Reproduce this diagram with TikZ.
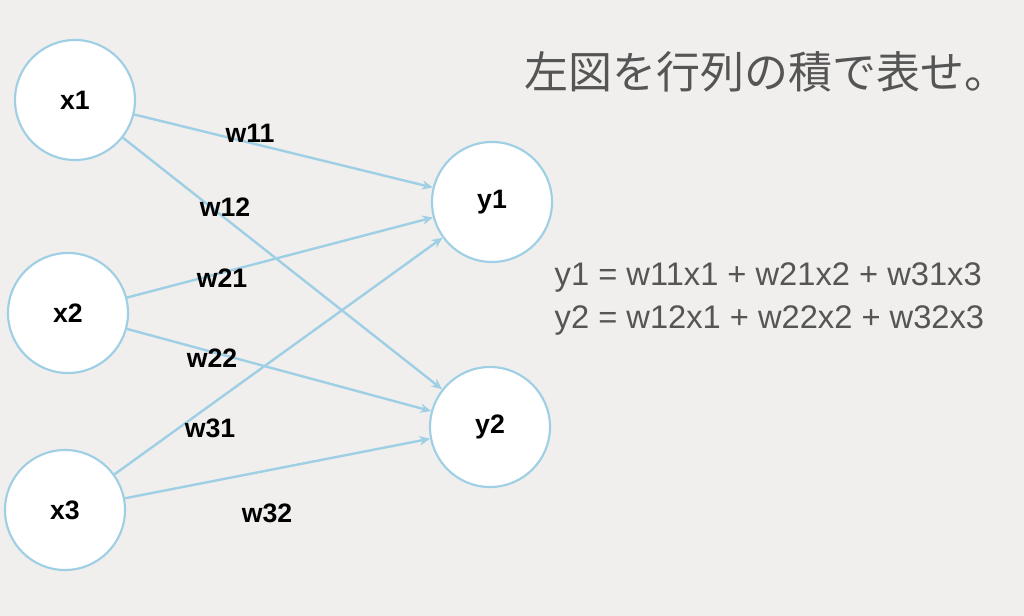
\documentclass[tikz,border=0pt]{standalone}
\usepackage{fontspec}
\setmainfont{Liberation Sans}
\newfontfamily\cjk{Noto Sans CJK JP}
\usetikzlibrary{arrows.meta}
\definecolor{bg}{HTML}{F0EFED}
\definecolor{edge}{HTML}{9FCFE4}
\definecolor{txt}{HTML}{555555}
\begin{document}
\begin{tikzpicture}[x=0.75pt,y=-0.75pt,
  neuron/.style={circle,draw=edge,line width=1.6pt,fill=white,minimum size=90pt,inner sep=0pt,font=\bfseries\fontsize{20}{20}\selectfont},
  conn/.style={draw=edge,line width=1.8pt,-{Stealth[length=8pt,width=7pt]}},
  wl/.style={font=\bfseries\fontsize{20}{20}\selectfont}]
\fill[bg] (0,0) rectangle (1024,616);
\useasboundingbox (0,0) rectangle (1024,616);
\node[neuron] (x1) at (75,100) {x1};
\node[neuron] (x2) at (68,313) {x2};
\node[neuron] (x3) at (65,510) {x3};
\node[neuron] (y1) at (492,202) {y1};
\node[neuron] (y2) at (490,427) {y2};
\draw[conn] (x1) -- (y1);
\draw[conn] (x1) -- (y2);
\draw[conn] (x2) -- (y1);
\draw[conn] (x2) -- (y2);
\draw[conn] (x3) -- (y1);
\draw[conn] (x3) -- (y2);
\node[wl] (w11) at (250,133) {w11};
\node[wl] (w12) at (225,207) {w12};
\node[wl] (w21) at (222,278) {w21};
\node[wl] (w22) at (212,358) {w22};
\node[wl] (w31) at (210,428) {w31};
\node[wl] (w32) at (267,513) {w32};
\node[txt,font=\cjk\fontsize{33}{33}\selectfont] (title) at (766,72) {左図を行列の積で表せ。};
\node[txt,anchor=west,font=\fontsize{24.5}{24.5}\selectfont] (e1) at (550,277) {y1 = w11x1 + w21x2 + w31x3};
\node[txt,anchor=west,font=\fontsize{24.5}{24.5}\selectfont] (e2) at (550,320) {y2 = w12x1 + w22x2 + w32x3};
\end{tikzpicture}
\end{document}
